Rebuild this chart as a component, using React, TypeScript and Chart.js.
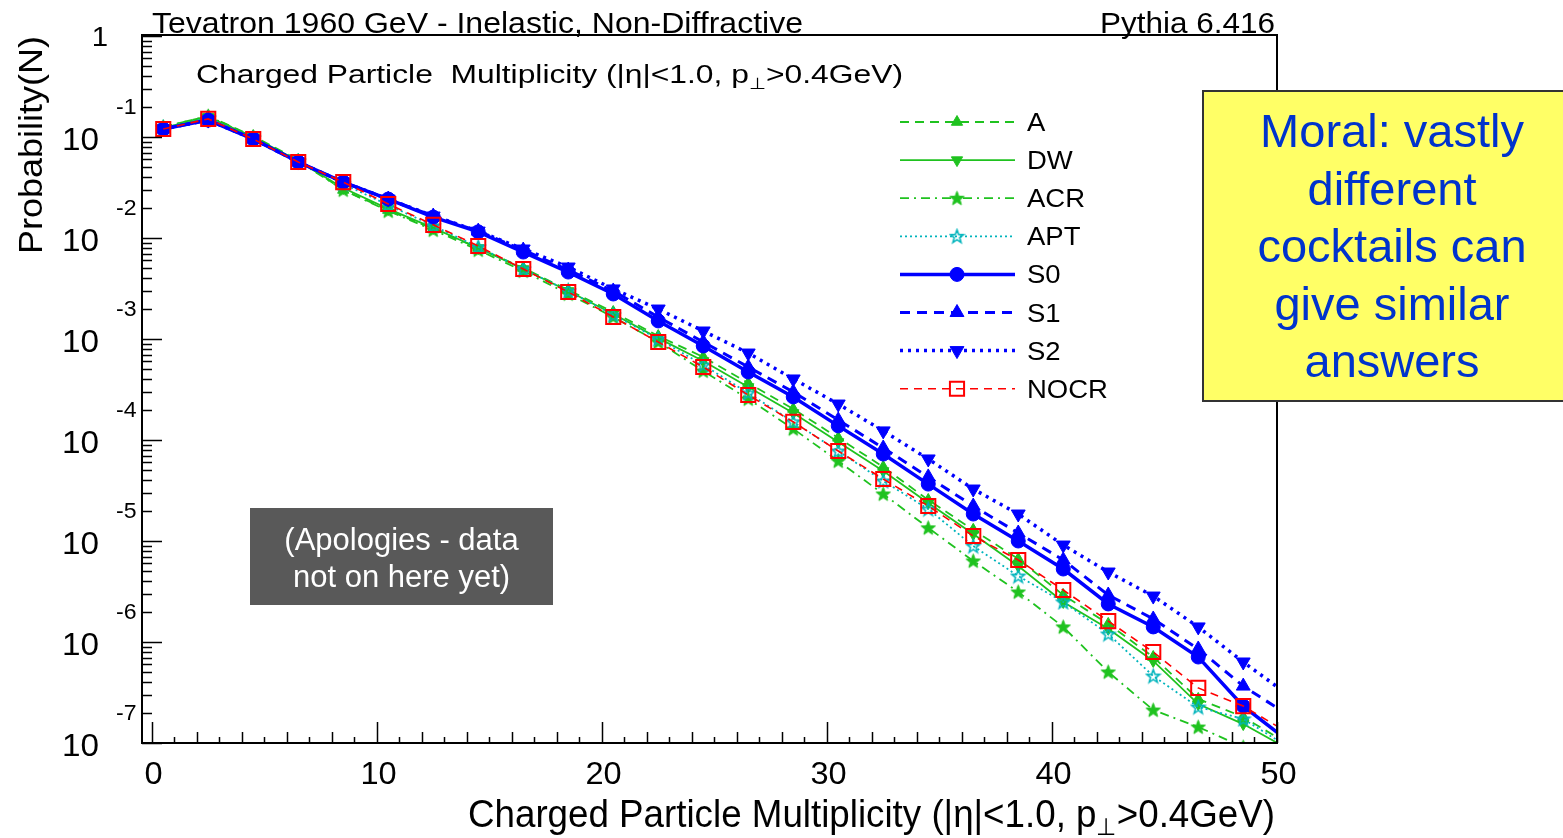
import React, { useEffect, useRef } from 'react';
import { Chart, registerables } from 'chart.js';

Chart.register(...registerables);

// ---------------- data ----------------
const multiplicity = [0.5, 2.5, 4.5, 6.5, 8.5, 10.5, 12.5, 14.5, 16.5, 18.5, 20.5, 22.5, 24.5, 26.5, 28.5, 30.5, 32.5, 34.5, 36.5, 38.5, 40.5, 42.5, 44.5, 46.5, 48.5, 50.5];

const probA = [1.26e-1, 1.61e-1, 1.02e-1, 5.92e-2, 2.99e-2, 1.89e-2, 1.23e-2, 7.96e-3, 5.05e-3, 3.05e-3, 1.85e-3, 1.07e-3, 6.64e-4, 3.66e-4, 2.03e-4, 1.05e-4, 5.41e-5, 2.55e-5, 1.29e-5, 6.64e-6, 2.92e-6, 1.51e-6, 7.10e-7, 2.73e-7, 1.81e-7, 9.77e-8];
const probDW = [1.23e-1, 1.58e-1, 1.00e-1, 5.78e-2, 3.13e-2, 1.94e-2, 1.26e-2, 7.96e-3, 4.93e-3, 2.99e-3, 1.77e-3, 1.02e-3, 6.05e-4, 3.35e-4, 1.85e-4, 9.55e-5, 4.93e-5, 2.38e-5, 1.17e-5, 5.65e-6, 2.49e-6, 1.35e-6, 6.49e-7, 2.43e-7, 1.54e-7, 8.73e-8];
const probACR = [1.26e-1, 1.61e-1, 1.00e-1, 5.78e-2, 2.99e-2, 1.85e-2, 1.20e-2, 7.60e-3, 4.71e-3, 2.79e-3, 1.65e-3, 9.33e-4, 4.82e-4, 2.55e-4, 1.29e-4, 6.19e-5, 2.92e-5, 1.35e-5, 6.34e-6, 3.13e-6, 1.41e-6, 5.05e-7, 2.12e-7, 1.44e-7, 9.12e-8, 5.53e-8];
const probAPT = [1.23e-1, 1.54e-1, 9.77e-2, 5.78e-2, 3.43e-2, 2.12e-2, 1.32e-2, 8.15e-3, 4.93e-3, 2.99e-3, 1.73e-3, 1.00e-3, 5.53e-4, 2.92e-4, 1.51e-4, 7.78e-5, 3.93e-5, 2.07e-5, 8.91e-6, 4.50e-6, 2.49e-6, 1.20e-6, 4.60e-7, 2.27e-7, 1.73e-7, 9.12e-8];
const probS0 = [1.20e-1, 1.47e-1, 9.55e-2, 5.65e-2, 3.58e-2, 2.43e-2, 1.61e-2, 1.15e-2, 7.26e-3, 4.60e-3, 2.79e-3, 1.51e-3, 8.53e-4, 4.71e-4, 2.67e-4, 1.38e-4, 7.26e-5, 3.66e-5, 1.85e-5, 1.00e-5, 5.28e-6, 2.38e-6, 1.41e-6, 7.10e-7, 2.32e-7, 1.05e-7];
const probS1 = [1.20e-1, 1.47e-1, 9.55e-2, 5.65e-2, 3.58e-2, 2.43e-2, 1.65e-2, 1.17e-2, 7.60e-3, 4.82e-3, 2.99e-3, 1.65e-3, 9.33e-4, 5.28e-4, 2.99e-4, 1.58e-4, 8.34e-5, 4.31e-5, 2.22e-5, 1.20e-5, 6.49e-6, 2.92e-6, 1.69e-6, 8.53e-7, 3.66e-7, 1.89e-7];
const probS2 = [1.20e-1, 1.47e-1, 9.55e-2, 5.65e-2, 3.58e-2, 2.43e-2, 1.65e-2, 1.17e-2, 7.78e-3, 5.16e-3, 3.13e-3, 1.98e-3, 1.20e-3, 7.26e-4, 4.02e-4, 2.27e-4, 1.23e-4, 6.49e-5, 3.27e-5, 1.85e-5, 9.12e-6, 4.93e-6, 2.85e-6, 1.41e-6, 6.34e-7, 2.99e-7];
const probNOCR = [1.20e-1, 1.51e-1, 9.55e-2, 5.65e-2, 3.58e-2, 2.17e-2, 1.35e-2, 8.34e-3, 4.93e-3, 2.92e-3, 1.65e-3, 9.33e-4, 5.28e-4, 2.79e-4, 1.51e-4, 7.78e-5, 4.11e-5, 2.22e-5, 1.12e-5, 6.49e-6, 3.27e-6, 1.61e-6, 7.96e-7, 3.51e-7, 2.32e-7, 1.26e-7];

const xTickValues = [0, 10, 20, 30, 40, 50];
const xTickLabels = ['0', '10', '20', '30', '40', '50'];
const yDecadeValues = [1, 1e-1, 1e-2, 1e-3, 1e-4, 1e-5, 1e-6, 1e-7];
const yDecadeExponents = ['', '-1', '-2', '-3', '-4', '-5', '-6', '-7'];

const titleLeft = 'Tevatron 1960 GeV - Inelastic, Non-Diffractive';
const titleRight = 'Pythia 6.416';
const yTitle = 'Probability(N)';
const moralLines = ['Moral: vastly', 'different', 'cocktails can', 'give similar', 'answers'];
const apologyLines = ['(Apologies - data', 'not on here yet)'];

// ---------------- styles ----------------
const GREEN = '#1fc21f';
const CYAN = '#00b4bc';
const BLUE = '#0000ff';
const RED = '#ff0000';
const FONT = '"Liberation Sans", Arial, Helvetica, sans-serif';

function makeStar(size: number, color: string, filled: boolean, lw: number) {
  const c = document.createElement('canvas');
  c.width = size;
  c.height = size;
  const g = c.getContext('2d')!;
  const cx = size / 2, cy = size / 2 + 0.5;
  const R = size / 2 - lw;
  const r = R * 0.42;
  g.beginPath();
  for (let k = 0; k < 10; k++) {
    const a = -Math.PI / 2 + (k * Math.PI) / 5;
    const rad = k % 2 === 0 ? R : r;
    const px = cx + Math.cos(a) * rad;
    const py = cy + Math.sin(a) * rad;
    if (k === 0) g.moveTo(px, py); else g.lineTo(px, py);
  }
  g.closePath();
  g.lineWidth = lw;
  g.strokeStyle = color;
  if (filled) { g.fillStyle = color; g.fill(); }
  g.stroke();
  return c;
}

type Piece = { t: string; sub?: boolean };

function drawPieces(ctx: CanvasRenderingContext2D, pieces: Piece[], x: number, y: number, size: number, align: 'left' | 'right' | 'center', targetWidth: number | null, color: string, sxFixed = 1) {
  ctx.save();
  const widths = pieces.map((p) => {
    ctx.font = `${p.sub ? size * 0.62 : size}px ${FONT}`;
    return ctx.measureText(p.t).width;
  });
  const total = widths.reduce((a, b) => a + b, 0);
  const sx = targetWidth ? targetWidth / total : sxFixed;
  const drawW = total * sx;
  let left = x;
  if (align === 'right') left = x - drawW;
  else if (align === 'center') left = x - drawW / 2;
  ctx.translate(left, y);
  ctx.scale(sx, 1);
  ctx.fillStyle = color;
  ctx.textAlign = 'left';
  ctx.textBaseline = 'alphabetic';
  let cx = 0;
  pieces.forEach((p, i) => {
    ctx.font = `${p.sub ? size * 0.62 : size}px ${FONT}`;
    ctx.fillText(p.t, cx, p.sub ? size * 0.22 : 0);
    cx += widths[i];
  });
  ctx.restore();
}

function drawText(ctx: CanvasRenderingContext2D, t: string, x: number, y: number, size: number, align: 'left' | 'right' | 'center', targetWidth: number | null, color = '#000', sx = 1) {
  drawPieces(ctx, [{ t }], x, y, size, align, targetWidth, color, sx);
}

function drawMarker(ctx: CanvasRenderingContext2D, ds: any, x: number, y: number) {
  const style = ds.pointStyle;
  if (style instanceof HTMLCanvasElement) {
    ctx.drawImage(style, x - style.width / 2, y - style.height / 2);
    return;
  }
  const r = ds.markerSize;
  ctx.save();
  ctx.setLineDash([]);
  ctx.beginPath();
  if (style === 'circle') {
    ctx.arc(x, y, r, 0, Math.PI * 2);
  } else if (style === 'triangle') {
    let a = ((ds.pointRotation || 0) * Math.PI) / 180;
    for (let k = 0; k < 3; k++) {
      const px = x + Math.sin(a) * r;
      const py = y - Math.cos(a) * r;
      if (k === 0) ctx.moveTo(px, py); else ctx.lineTo(px, py);
      a += (2 * Math.PI) / 3;
    }
  } else if (style === 'rect') {
    const s = Math.SQRT1_2 * r;
    ctx.rect(x - s, y - s, 2 * s, 2 * s);
  }
  ctx.closePath();
  ctx.fillStyle = ds.pointBackgroundColor;
  ctx.fill();
  ctx.lineWidth = ds.pointBorderWidth;
  ctx.strokeStyle = ds.pointBorderColor;
  ctx.stroke();
  ctx.restore();
}

const rootStylePlugin = {
  id: 'rootStyle',
  afterDraw(chart: any) {
    const ctx: CanvasRenderingContext2D = chart.ctx;
    const area = chart.chartArea;
    const xs = chart.scales.x;
    const ys = chart.scales.y;
    ctx.save();

    // frame
    ctx.strokeStyle = '#000';
    ctx.lineWidth = 2;
    ctx.setLineDash([]);
    ctx.strokeRect(area.left, area.top - 1, area.right - area.left, area.bottom - area.top + 1);

    // x ticks
    ctx.lineWidth = 1.5;
    ctx.beginPath();
    for (let v = 0; v <= 50; v++) {
      const px = Math.round(xs.getPixelForValue(v)) + 0.5;
      const len = v % 10 === 0 ? 21 : v % 2 === 0 ? 11 : 6;
      ctx.moveTo(px, area.bottom);
      ctx.lineTo(px, area.bottom - len);
    }
    // y ticks
    yDecadeValues.forEach((dv, i) => {
      const py = Math.round(ys.getPixelForValue(dv)) + 0.5;
      ctx.moveTo(area.left, py);
      ctx.lineTo(area.left + 20, py);
      if (i > 0) {
        for (let m = 2; m <= 9; m++) {
          const mpy = Math.round(ys.getPixelForValue(dv * m)) + 0.5;
          ctx.moveTo(area.left, mpy);
          ctx.lineTo(area.left + 10, mpy);
        }
      }
    });
    ctx.stroke();

    // x tick labels
    xTickValues.forEach((v, i) => {
      const px = xs.getPixelForValue(v) + 1.5;
      drawText(ctx, xTickLabels[i], px, area.bottom + 41, 31, 'center', null, '#000', 1.05);
    });
    // y tick labels (ROOT style 10^n)
    yDecadeValues.forEach((dv, i) => {
      const py = ys.getPixelForValue(dv);
      if (i === 0) {
        drawText(ctx, '1', 108, py + 10, 28, 'right', null, '#000', 1.05);
      } else {
        drawText(ctx, '10', 99, py + 13, 32, 'right', null, '#000', 1.04);
        drawText(ctx, yDecadeExponents[i], 116, py - 23, 22, 'left', null, '#000', 1.05);
      }
    });

    // titles
    drawText(ctx, titleLeft, 152, 33, 29, 'left', 651);
    drawText(ctx, titleRight, 1275, 33, 29, 'right', 175);
    drawPieces(ctx, [{ t: 'Charged Particle  Multiplicity (|η|<1.0, p' }, { t: '⊥', sub: true }, { t: '>0.4GeV)' }], 196, 83, 26, 'left', 707, '#000');
    drawPieces(ctx, [{ t: 'Charged Particle Multiplicity (|η|<1.0, p' }, { t: '⊥', sub: true }, { t: '>0.4GeV)' }], 1275, 827, 38, 'right', 807, '#000');
    ctx.save();
    ctx.translate(42, 145);
    ctx.rotate(-Math.PI / 2);
    drawText(ctx, yTitle, 0, 0, 33, 'center', 218);
    ctx.restore();

    // legend
    const dsets = chart.data.datasets;
    dsets.forEach((ds: any, i: number) => {
      const ly = 122 + i * 38.1;
      ctx.save();
      ctx.strokeStyle = ds.borderColor;
      ctx.lineWidth = ds.borderWidth;
      ctx.setLineDash(ds.borderDash || []);
      ctx.beginPath();
      ctx.moveTo(900, ly);
      ctx.lineTo(1015, ly);
      ctx.stroke();
      ctx.restore();
      drawMarker(ctx, ds, 957, ly);
      drawText(ctx, ds.label, 1027, ly + 9, 25, 'left', null, '#000', 1.1);
    });

    // grey box
    ctx.fillStyle = '#595959';
    ctx.fillRect(250, 508, 303, 97);
    apologyLines.forEach((t, i) => {
      drawText(ctx, t, 401.5, 550 + i * 37, 31, 'center', null, '#ffffff');
    });

    // yellow box
    ctx.fillStyle = '#ffff66';
    ctx.fillRect(1203, 91, 370, 310);
    ctx.strokeStyle = '#333333';
    ctx.lineWidth = 2;
    ctx.strokeRect(1203, 91, 370, 310);
    moralLines.forEach((t, i) => {
      drawText(ctx, t, 1392, 147 + i * 57.5, 47, 'center', null, '#0033cc');
    });

    ctx.restore();
  },
};

export default function App() {
  const ref = useRef<HTMLCanvasElement | null>(null);
  useEffect(() => {
    if (!ref.current) return;
    const starFilled = makeStar(17, GREEN, true, 1);
    const starOpen = makeStar(17, CYAN, false, 1.6);
    const pts = (arr: number[]) => multiplicity.map((x, i) => ({ x, y: arr[i] }));
    const radii = (r: number) => multiplicity.map((x) => (x > 50 ? 0 : r));
    const datasets: any[] = [
      { label: 'A', data: pts(probA), borderColor: GREEN, borderWidth: 1.8, borderDash: [9, 6], pointStyle: 'triangle', markerSize: 6.5, pointBackgroundColor: GREEN, pointBorderColor: GREEN, pointBorderWidth: 1, order: 8 },
      { label: 'DW', data: pts(probDW), borderColor: GREEN, borderWidth: 1.8, borderDash: [], pointStyle: 'triangle', pointRotation: 180, markerSize: 6.5, pointBackgroundColor: GREEN, pointBorderColor: GREEN, pointBorderWidth: 1, order: 7 },
      { label: 'ACR', data: pts(probACR), borderColor: GREEN, borderWidth: 1.8, borderDash: [9, 5, 2, 5], pointStyle: starFilled, markerSize: 7, pointBackgroundColor: GREEN, pointBorderColor: GREEN, pointBorderWidth: 1, order: 6 },
      { label: 'APT', data: pts(probAPT), borderColor: CYAN, borderWidth: 1.8, borderDash: [2, 3], pointStyle: starOpen, markerSize: 7, pointBackgroundColor: 'rgba(0,0,0,0)', pointBorderColor: CYAN, pointBorderWidth: 1.5, order: 5 },
      { label: 'S0', data: pts(probS0), borderColor: BLUE, borderWidth: 3.5, borderDash: [], pointStyle: 'circle', markerSize: 7, pointBackgroundColor: BLUE, pointBorderColor: BLUE, pointBorderWidth: 1, order: 4 },
      { label: 'S1', data: pts(probS1), borderColor: BLUE, borderWidth: 3, borderDash: [10, 7], pointStyle: 'triangle', markerSize: 8, pointBackgroundColor: BLUE, pointBorderColor: BLUE, pointBorderWidth: 1, order: 3 },
      { label: 'S2', data: pts(probS2), borderColor: BLUE, borderWidth: 3.5, borderDash: [3, 5], pointStyle: 'triangle', pointRotation: 180, markerSize: 8, pointBackgroundColor: BLUE, pointBorderColor: BLUE, pointBorderWidth: 1, order: 2 },
      { label: 'NOCR', data: pts(probNOCR), borderColor: RED, borderWidth: 1.6, borderDash: [8, 6], pointStyle: 'rect', markerSize: 10, pointBackgroundColor: 'rgba(0,0,0,0)', pointBorderColor: RED, pointBorderWidth: 2, order: 1 },
    ];
    datasets.forEach((d) => {
      d.pointRadius = radii(d.markerSize);
      d.fill = false;
      d.tension = 0;
      d.pointHoverRadius = 0;
    });
    const chart = new Chart(ref.current, {
      type: 'line',
      data: { datasets },
      options: {
        animation: false,
        responsive: false,
        events: [],
        layout: { padding: { left: 142, right: 286, top: 36, bottom: 95 } },
        scales: {
          x: { type: 'linear', min: -0.444, max: 50, display: false },
          y: { type: 'logarithmic', min: 1e-7, max: 1, display: false },
        },
        plugins: { legend: { display: false }, tooltip: { enabled: false }, title: { display: false } },
      },
      plugins: [rootStylePlugin],
    });
    return () => chart.destroy();
  }, []);
  return (
    <div style={{ position: 'absolute', left: 0, top: 0, width: 1563, height: 838, background: '#fff' }}>
      <canvas ref={ref} width={1563} height={838} style={{ display: 'block' }} />
    </div>
  );
}
